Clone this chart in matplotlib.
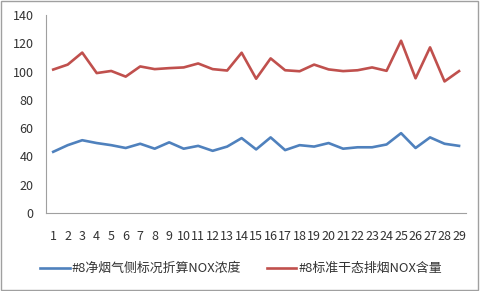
import matplotlib
matplotlib.use("Agg")
import matplotlib.pyplot as plt
from matplotlib.patches import Rectangle

plt.rcParams['font.family'] = ['Noto Sans CJK SC', 'DejaVu Sans']

categories = [str(i) for i in range(1, 30)]
blue_vals = [43.3, 48, 51.5, 49.5, 48, 46, 49, 45.5, 50, 45.5, 47.5, 44, 47, 53, 45,
             53.5, 44.5, 48, 47, 49.5, 45.5, 46.5, 46.5, 48.5, 56.5, 46, 53.5, 49, 47.5]
red_vals = [101.5, 105, 113.5, 99, 100.5, 96.5, 103.7, 101.8, 102.5, 103, 105.8, 101.8, 100.8, 113.4, 95,
            109.4, 101, 100.3, 105, 101.6, 100.4, 101, 103, 100.6, 121.9, 95.3, 117.2, 93.1, 100.4]
blue_label = "#8净烟气侧标况折算NOX浓度"
red_label = "#8标准干态排烟NOX含量"
yticks = [0, 20, 40, 60, 80, 100, 120, 140]

fig = plt.figure(figsize=(4.82, 2.91), dpi=100)
ax = fig.add_axes([0.0954, 0.268, 0.872, 0.680])
x = list(range(len(categories)))
ax.plot(x, blue_vals, color='#4F81BD', lw=1.9, label=blue_label)
ax.plot(x, red_vals, color='#C0504D', lw=1.9, label=red_label)
ax.set_xlim(-0.5, len(categories) - 0.5)
ax.set_ylim(0, 140)
ax.set_yticks(yticks)
ax.set_xticks(x)
ax.set_xticklabels(categories)
for s in ['top', 'right']:
    ax.spines[s].set_visible(False)
for s in ['left', 'bottom']:
    ax.spines[s].set_color('#A0A0A0')
    ax.spines[s].set_linewidth(0.8)
ax.tick_params(axis='both', length=0, labelsize=9, colors='#333333')
ax.tick_params(axis='x', pad=12)
ax.tick_params(axis='y', pad=9)
leg = fig.legend(loc='center', bbox_to_anchor=(0.5, 0.077), ncol=2, frameon=False,
                 fontsize=9.3, handlelength=2.3, columnspacing=2.0, handletextpad=0.15)
for t in leg.get_texts():
    t.set_color('#333333')
fig.patches.append(Rectangle((0.002, 0.005), 0.99, 0.99, transform=fig.transFigure,
                             fill=False, edgecolor='#A0A0A0', lw=1.0))
fig.savefig('out.png', dpi=100)
